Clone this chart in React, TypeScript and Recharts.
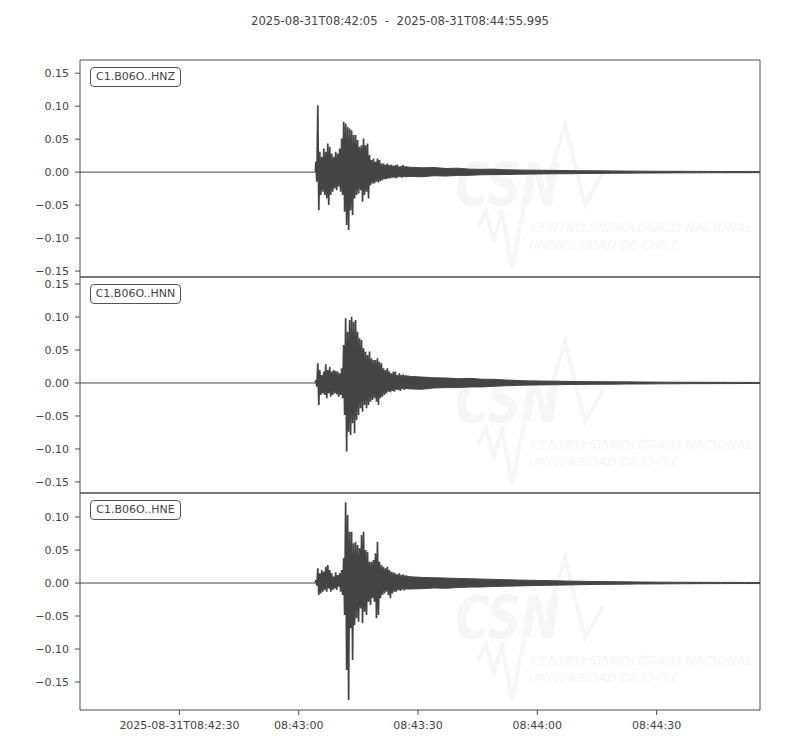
import { Area, ComposedChart, Line, ReferenceArea, XAxis, YAxis } from "recharts";

// seconds counted from 2025-08-31T08:42:05
const T_END = 170.995;
const ONSET = 59.3;
const STEP = 0.5;

const xTicks = [25, 55, 85, 115, 145];
const xTickLabels = ["2025-08-31T08:42:30", "08:43:00", "08:43:30", "08:44:00", "08:44:30"];
const yTicksFull = [-0.15, -0.1, -0.05, 0, 0.05, 0.1, 0.15];
const yTicksLow = [-0.15, -0.1, -0.05, 0, 0.05, 0.1];

// quiet record before the P arrival
const preEvent = [
  { t: 0, y: 0 },
  { t: 59.2, y: 0 },
];

// envelope of the strong motion, one max/min pair every 0.5 s from the onset
const hnzHi = [0.0157, 0.1015, 0.0308, 0.0232, 0.0359, 0.0308, 0.0434, 0.0384, 0.0283, 0.0232, 0.0308, 0.0283, 0.0359, 0.051, 0.0763, 0.0737, 0.0687, 0.0662, 0.0636, 0.0561, 0.0561, 0.0485, 0.0384, 0.0409, 0.051, 0.0409, 0.0434, 0.0258, 0.0182, 0.0207, 0.0157, 0.0207, 0.0182, 0.0131, 0.0131, 0.0116, 0.0131, 0.0106, 0.0116, 0.0096, 0.0106, 0.0116, 0.0086, 0.0096, 0.0106, 0.0081];
const hnzLo = [-0.0146, -0.0576, -0.0348, -0.0298, -0.0348, -0.0399, -0.05, -0.0348, -0.0298, -0.0247, -0.0273, -0.0222, -0.0298, -0.0348, -0.0601, -0.0803, -0.0879, -0.0576, -0.0652, -0.0399, -0.0348, -0.0323, -0.0273, -0.045, -0.0348, -0.0298, -0.0399, -0.0197, -0.0172, -0.0172, -0.0146, -0.0157, -0.0136, -0.0121, -0.0106, -0.0106, -0.0096, -0.0096, -0.0086, -0.0086, -0.0096, -0.0076, -0.0076, -0.0086, -0.0071, -0.0071];
const hnnHi = [0.0045, 0.0298, 0.0197, 0.0121, 0.0172, 0.0283, 0.0197, 0.0247, 0.0172, 0.0197, 0.0182, 0.0172, 0.0146, 0.0222, 0.0576, 0.098, 0.0778, 0.0955, 0.1005, 0.0929, 0.0955, 0.0778, 0.0677, 0.0652, 0.0525, 0.0475, 0.0424, 0.0475, 0.0374, 0.0348, 0.0348, 0.0374, 0.0323, 0.0298, 0.0222, 0.0197, 0.0222, 0.0172, 0.0146, 0.0172, 0.0172, 0.0121, 0.0146, 0.0121, 0.0131, 0.0111];
const hnnLo = [-0.0056, -0.0333, -0.0182, -0.0157, -0.0182, -0.0232, -0.0157, -0.0207, -0.0182, -0.0157, -0.0172, -0.0207, -0.0182, -0.0232, -0.0485, -0.104, -0.0737, -0.0788, -0.0611, -0.0763, -0.0561, -0.0485, -0.0384, -0.0434, -0.0333, -0.0384, -0.0333, -0.0283, -0.0258, -0.0232, -0.0283, -0.0333, -0.0232, -0.0207, -0.0182, -0.0157, -0.0131, -0.0141, -0.0121, -0.0131, -0.0106, -0.0106, -0.0121, -0.0091, -0.0106, -0.0081];
const hneHi = [0.0045, 0.0222, 0.0146, 0.0197, 0.0172, 0.0247, 0.0273, 0.0197, 0.0146, 0.0096, 0.0162, 0.0121, 0.0146, 0.0197, 0.0374, 0.1222, 0.103, 0.0778, 0.0778, 0.0601, 0.0626, 0.0576, 0.0525, 0.0727, 0.0778, 0.05, 0.0475, 0.0323, 0.0323, 0.0348, 0.0449, 0.0626, 0.0323, 0.0273, 0.0247, 0.0222, 0.0247, 0.0197, 0.0172, 0.0162, 0.0146, 0.0131, 0.0146, 0.0121, 0.0131, 0.0111];
const hneLo = [-0.004, -0.0182, -0.0157, -0.0131, -0.0106, -0.0131, -0.0081, -0.0131, -0.0106, -0.0081, -0.0106, -0.0056, -0.0131, -0.0182, -0.0485, -0.1318, -0.1773, -0.0687, -0.1167, -0.0636, -0.0535, -0.0586, -0.0384, -0.0611, -0.0434, -0.0485, -0.0283, -0.0333, -0.0232, -0.0283, -0.0535, -0.0485, -0.0232, -0.0182, -0.0157, -0.0131, -0.0182, -0.0232, -0.0157, -0.0131, -0.0131, -0.0106, -0.0121, -0.0101, -0.0111, -0.0091];

// coda, sparser
const tailTimes = [83, 86, 89, 92, 95, 98, 101, 104, 107, 110, 113, 116, 119, 122, 125, 128, 131, 134, 137, 140, 143, 146, 149, 152, 155, 158, 161, 164, 167, 170, 171];
const hnzTailHi = [0.0075, 0.0065, 0.007, 0.0055, 0.006, 0.0045, 0.0042, 0.0045, 0.0035, 0.0032, 0.003, 0.0028, 0.0026, 0.0024, 0.0022, 0.002, 0.0019, 0.0018, 0.0016, 0.0015, 0.0014, 0.0013, 0.0012, 0.0012, 0.0011, 0.001, 0.001, 0.0009, 0.0009, 0.0008, 0.0008];
const hnzTailLo = [-0.0065, -0.007, -0.0055, -0.006, -0.005, -0.0048, -0.004, -0.0038, -0.0036, -0.0032, -0.003, -0.0027, -0.0025, -0.0024, -0.0022, -0.002, -0.0019, -0.0017, -0.0016, -0.0015, -0.0014, -0.0013, -0.0012, -0.0011, -0.0011, -0.001, -0.001, -0.0009, -0.0009, -0.0008, -0.0008];
const hnnTailHi = [0.01, 0.009, 0.008, 0.0075, 0.0065, 0.007, 0.0058, 0.0055, 0.0045, 0.0038, 0.0032, 0.003, 0.0028, 0.0025, 0.0022, 0.002, 0.0019, 0.0018, 0.0017, 0.0016, 0.0014, 0.0013, 0.0012, 0.0011, 0.0011, 0.001, 0.001, 0.0009, 0.0009, 0.0008, 0.0008];
const hnnTailLo = [-0.009, -0.0095, -0.0075, -0.007, -0.007, -0.006, -0.006, -0.005, -0.0042, -0.0036, -0.0032, -0.0029, -0.0027, -0.0024, -0.0022, -0.002, -0.0019, -0.0018, -0.0016, -0.0015, -0.0014, -0.0013, -0.0012, -0.0011, -0.001, -0.001, -0.0009, -0.0009, -0.0008, -0.0008, -0.0008];
const hneTailHi = [0.0095, 0.0085, 0.008, 0.0075, 0.007, 0.0065, 0.006, 0.0055, 0.005, 0.0045, 0.0042, 0.0038, 0.0035, 0.003, 0.0027, 0.0024, 0.0022, 0.002, 0.0018, 0.0016, 0.0014, 0.0013, 0.0012, 0.0011, 0.001, 0.001, 0.0009, 0.0009, 0.0008, 0.0008, 0.0008];
const hneTailLo = [-0.009, -0.0085, -0.0075, -0.008, -0.0068, -0.0062, -0.006, -0.0052, -0.0048, -0.0044, -0.004, -0.0036, -0.0033, -0.003, -0.0026, -0.0023, -0.0021, -0.0019, -0.0017, -0.0015, -0.0014, -0.0013, -0.0012, -0.0011, -0.001, -0.0009, -0.0009, -0.0008, -0.0008, -0.0008, -0.0008];

const INK = "#444444";
const FRAME = "#4d4d4d";
const FONT = "DejaVu Sans";

type Pt = { t: number; y: number };
type Band = { t: number; v: [number, number] };

// strong motion drawn as a zig-zag between each max and min
function buildWave(hi: number[], lo: number[]): Pt[] {
  const rows: Pt[] = [{ t: preEvent[1].t, y: 0 }];
  hi.forEach((h, i) => {
    rows.push({ t: ONSET + i * STEP, y: h });
    rows.push({ t: ONSET + i * STEP + STEP / 2, y: lo[i] ?? 0 });
  });
  return rows;
}

// coda drawn as a min/max band
function buildCoda(hi: number[], lo: number[], tailHi: number[], tailLo: number[]): Band[] {
  const last = hi.length - 1;
  const rows: Band[] = [{ t: ONSET + last * STEP, v: [lo[last], hi[last]] }];
  tailTimes.forEach((t, i) => rows.push({ t, v: [tailLo[i] ?? 0, tailHi[i] ?? 0] }));
  return rows;
}

const panels = [
  { id: "C1.B06O..HNZ", top: 60, height: 217, domain: [-0.159, 0.17] as [number, number], ticks: yTicksFull, wave: buildWave(hnzHi, hnzLo), coda: buildCoda(hnzHi, hnzLo, hnzTailHi, hnzTailLo) },
  { id: "C1.B06O..HNN", top: 277, height: 216, domain: [-0.1667, 0.1606] as [number, number], ticks: yTicksFull, wave: buildWave(hnnHi, hnnLo), coda: buildCoda(hnnHi, hnnLo, hnnTailHi, hnnTailLo) },
  { id: "C1.B06O..HNE", top: 493, height: 217, domain: [-0.1924, 0.1364] as [number, number], ticks: yTicksLow, wave: buildWave(hneHi, hneLo), coda: buildCoda(hneHi, hneLo, hneTailHi, hneTailLo) },
];

const fmtY = (v: number) => (v < 0 ? `\u2212${Math.abs(v).toFixed(2)}` : v.toFixed(2));
const fmtX = (v: number) => xTickLabels[xTicks.indexOf(v)] ?? "";

function Watermark({ height }: { height: number }) {
  const c = "#f6f6f6";
  return (
    <svg width={800} height={height} style={{ position: "absolute", left: 0, top: 0 }}>
      <polyline points="548,120 565,65 585,145 603,113" fill="none" stroke={c} strokeWidth={4} />
      <polyline points="478,168 486,150 494,182 502,150 512,208 524,146" fill="none" stroke={c} strokeWidth={4} />
      <text x={455} y={145} fontFamily={FONT} fontWeight="bold" fontStyle="italic" fontSize={58} fill={c} textLength={105} lengthAdjust="spacingAndGlyphs">
        CSN
      </text>
      <text x={531} y={172} fontFamily="DejaVu Sans Condensed" fontStyle="italic" fontSize={13} fill={c} textLength={222} lengthAdjust="spacingAndGlyphs">
        CENTRO SISMOLÓGICO NACIONAL
      </text>
      <text x={529} y={189} fontFamily="DejaVu Sans Condensed" fontStyle="italic" fontSize={13} fill={c} textLength={150} lengthAdjust="spacingAndGlyphs">
        UNIVERSIDAD DE CHILE
      </text>
    </svg>
  );
}

export default function App() {
  const mTop = 10;
  return (
    <div style={{ position: "absolute", left: 0, top: 0, width: 800, height: 750, background: "#fff", fontFamily: FONT }}>
      <div style={{ position: "absolute", left: 0, top: 13, width: 800, textAlign: "center", fontSize: 11.6, lineHeight: "16px", color: INK, whiteSpace: "pre" }}>
        {"2025-08-31T08:42:05  -  2025-08-31T08:44:55.995"}
      </div>
      {panels.map((p, idx) => {
        const last = idx === panels.length - 1;
        return (
          <div key={p.id} style={{ position: "absolute", left: 0, top: p.top, width: 800, height: p.height }}>
            <Watermark height={p.height} />
            <div style={{ position: "absolute", left: 0, top: -mTop }}>
              <ComposedChart width={800} height={p.height + mTop + (last ? 40 : 10)} margin={{ top: mTop, right: 40, bottom: 10, left: 0 }}>
                <XAxis
                  type="number"
                  dataKey="t"
                  domain={[0, T_END]}
                  allowDataOverflow
                  ticks={xTicks}
                  tickFormatter={fmtX}
                  hide={!last}
                  height={last ? 30 : 0}
                  axisLine={false}
                  tickSize={5}
                  tickMargin={6}
                  tickLine={{ stroke: FRAME }}
                  tick={{ fontSize: 11, fill: INK, fontFamily: FONT }}
                />
                <YAxis
                  type="number"
                  domain={p.domain}
                  allowDataOverflow
                  ticks={p.ticks}
                  tickFormatter={fmtY}
                  width={80}
                  axisLine={false}
                  tickSize={5}
                  tickMargin={6}
                  tickLine={{ stroke: FRAME }}
                  tick={{ fontSize: 11, fill: INK, fontFamily: FONT }}
                  interval={0}
                />
                <Line
                  data={preEvent}
                  type="linear"
                  dataKey="y"
                  stroke={INK}
                  strokeWidth={1}
                  dot={false}
                  activeDot={false}
                  isAnimationActive={false}
                />
                <Area
                  data={p.coda}
                  type="linear"
                  dataKey="v"
                  stroke={INK}
                  strokeWidth={1}
                  fill={INK}
                  fillOpacity={1}
                  dot={false}
                  activeDot={false}
                  isAnimationActive={false}
                />
                <Line
                  data={p.wave}
                  type="linear"
                  dataKey="y"
                  stroke={INK}
                  strokeWidth={1.7}
                  strokeLinejoin="miter"
                  dot={false}
                  activeDot={false}
                  isAnimationActive={false}
                />
                <ReferenceArea x1={0} x2={T_END} y1={p.domain[0]} y2={p.domain[1]} fill="none" stroke={FRAME} strokeWidth={1} ifOverflow="visible" />
              </ComposedChart>
            </div>
            <div
              style={{
                position: "absolute",
                left: 90,
                top: 6.5,
                width: 91,
                height: 20,
                boxSizing: "border-box",
                border: "1px solid #555",
                borderRadius: 4,
                background: "#fff",
                color: INK,
                fontSize: 11,
                lineHeight: "18px",
                textAlign: "center",
              }}
            >
              {p.id}
            </div>
          </div>
        );
      })}
    </div>
  );
}
